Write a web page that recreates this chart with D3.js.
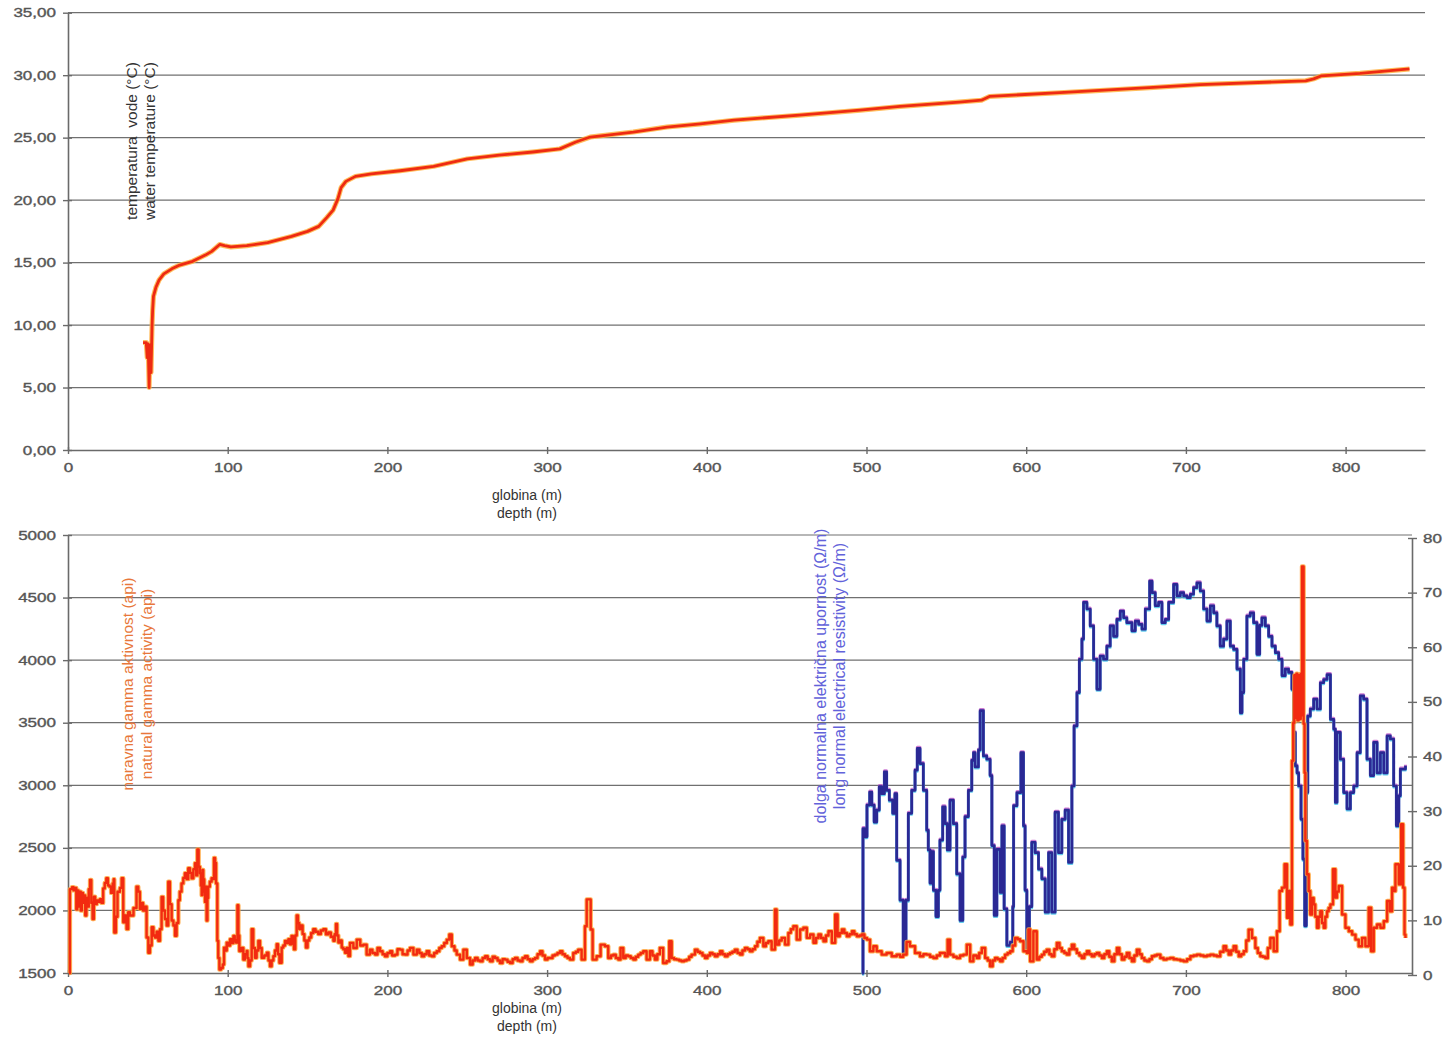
<!DOCTYPE html>
<html>
<head>
<meta charset="utf-8">
<script src="https://cdn.jsdelivr.net/npm/d3@7"></script>
<style>
  html, body { margin: 0; background: #fff; }
  svg { display: block; }
</style>
</head>
<body>
<svg id="chart" width="1447" height="1041"></svg>
<script>
// ---- axis ticks ----
const depthTicks = [0, 100, 200, 300, 400, 500, 600, 700, 800];
const tempTicks = [0, 5, 10, 15, 20, 25, 30, 35];
const gammaTicks = [1500, 2000, 2500, 3000, 3500, 4000, 4500, 5000];
const resistTicks = [0, 10, 20, 30, 40, 50, 60, 70, 80];

// ---- water temperature (°C) by depth (m) ----
const temperature = [
  [47,8.6],[49,8.6],[49.6,7.4],[50.2,8.5],[50.8,5.0],[51.4,8.4],[52,6.2],[52.6,9.8],[53,11.2],[53.5,12.3],
  [55,13.0],[57,13.6],[60,14.1],[65,14.5],[70,14.8],[78,15.1],[86,15.6],[90,15.9],[95,16.45],[98,16.35],
  [102,16.25],[112,16.35],[125,16.6],[140,17.1],[150,17.5],[157,17.9],[162,18.6],[166,19.2],[169,20.1],
  [171,21.0],[174,21.5],[180,21.9],[190,22.1],[208,22.35],[229,22.7],[250,23.3],[270,23.6],[291,23.85],
  [308,24.1],[318,24.65],[327,25.05],[354,25.45],[375,25.85],[396,26.1],[417,26.4],[458,26.8],[496,27.2],
  [521,27.5],[558,27.85],[572,28.0],[577,28.3],[621,28.6],[677,29.0],[709,29.25],[775,29.55],[780,29.7],
  [785,29.95],[809,30.15],[840,30.5]
];

// ---- natural gamma activity (api) by depth (m) ----
const gamma = [
  [0.6,1500],[1.2,2170],[2.5,2185],[3.5,2160],[4.4,2180],[5.2,2010],[5.8,2160],[6.5,2030],[7.2,2150],[8,2000],
  [8.7,2140],[9.4,2060],[10.1,2120],[10.8,1960],[11.5,2100],[12.2,2030],[13,2170],[13.8,2243],[14.6,2060],[15.4,1932],
  [16.2,2110],[17,2050],[18,2080],[19,2068],[20,2090],[21,2060],[22,2176],[23,2220],[24,2257],[25,2200],
  [26,2190],[27,2140],[28,2216],[28.6,2250],[29,1824],[30,1950],[31,2149],[32.5,2180],[33.6,2257],[34.6,1905],
  [35.6,1960],[36.7,1851],[37.7,1986],[38.8,1960],[39.8,1959],[41,2020],[42.9,2190],[44,2150],[45,2014],[46,2060],
  [47,2000],[48,2030],[49.2,1784],[50.3,1662],[51.3,1720],[52.4,1865],[53.5,1800],[54.5,1784],[55.5,1830],[56.6,1757],
  [57.6,1850],[58.6,2108],[59.6,2000],[60.7,1932],[61.8,1880],[62.8,2230],[63.8,2050],[64.9,1919],[66,1880],[67,1797],
  [68,1900],[69.1,2081],[70,2150],[71.1,2216],[72.2,2260],[73.2,2297],[74.3,2250],[75.3,2338],[76.4,2300],[77.4,2257],
  [78.5,2330],[79.5,2378],[80.3,2280],[81,2487],[81.8,2350],[82.6,2297],[83.2,2200],[83.7,2122],[84.2,2324],[84.7,2250],
  [85.3,2150],[85.8,2068],[86.3,2190],[86.8,1919],[87.3,2100],[87.8,2190],[88.8,2230],[89.9,2257],[90.6,2250],[91.4,2419],
  [92.1,2380],[92.7,2216],[93.5,1757],[94.1,1620],[94.8,1527],[95.8,1540],[96.9,1568],[97.7,1703],[98.5,1680],[99.4,1743],
  [100.4,1720],[101.5,1770],[102.5,1740],[103.6,1797],[104.4,1760],[105.2,1743],[106.1,2041],[106.7,1800],[107.3,1676],[108.5,1700],
  [109.8,1608],[110.8,1650],[111.9,1676],[112.4,1620],[113,1554],[114,1600],[115,1851],[116,1700],[117.1,1622],[118.1,1680],
  [119.2,1757],[120.2,1700],[121.3,1622],[122.9,1640],[124.5,1662],[125.5,1600],[126.5,1554],[127.5,1600],[128.6,1635],[129.6,1680],
  [130.7,1730],[131.5,1650],[132.4,1581],[133.8,1703],[134.8,1720],[135.9,1757],[137,1740],[138,1770],[139,1730],[140,1797],
  [140.8,1750],[141.5,1689],[142.3,1800],[143.2,1960],[144,1900],[144.8,1851],[145.8,1880],[146.9,1811],[148,1760],[149,1703],
  [150,1760],[151.1,1784],[152.3,1820],[153.6,1851],[155,1830],[156.7,1811],[158.3,1840],[159.9,1851],[161.5,1810],[163,1824],
  [164.6,1790],[166.2,1757],[167,1810],[167.8,1892],[168.5,1800],[169.3,1743],[170.3,1760],[171.4,1703],[172.4,1690],[173.5,1662],
  [174.5,1700],[175.6,1635],[176.6,1741],[178.7,1700],[180.8,1767],[183,1720],[185,1727],[187,1647],[189,1687],[190.6,1660],
  [192.3,1647],[193.8,1700],[195.4,1674],[197,1650],[198.5,1634],[200,1660],[201.7,1674],[203,1640],[204.8,1647],[206.3,1690],
  [207.9,1687],[209.5,1650],[211,1647],[212.6,1680],[214.2,1701],[216.3,1647],[218.4,1687],[220,1660],[221.5,1634],[223,1650],
  [224.6,1674],[226.2,1640],[227.8,1634],[229.3,1660],[230.9,1674],[232.5,1700],[234,1714],[235.6,1740],[237.2,1767],[238.8,1808],
  [240.3,1714],[242,1680],[243.4,1647],[245.5,1607],[247.6,1687],[249.7,1620],[251.8,1567],[253.4,1600],[254.9,1620],[256.5,1600],
  [258,1594],[259.6,1620],[261.2,1634],[262.8,1610],[264.3,1594],[265.9,1630],[267.4,1620],[269,1600],[270.5,1580],[272.1,1610],
  [273.7,1607],[275.2,1590],[276.8,1580],[278.4,1610],[279.9,1620],[281.5,1600],[283.1,1594],[284.6,1620],[286.2,1634],[287.8,1610],
  [289.3,1594],[290.9,1610],[292.4,1620],[294,1650],[295.6,1674],[297.1,1640],[298.7,1607],[300.3,1620],[301.8,1620],[303.4,1640],
  [304.9,1647],[306.5,1660],[308.1,1674],[309.6,1650],[311.2,1634],[312.8,1620],[314.3,1607],[316.4,1660],[318,1670],[319.5,1687],
  [321.6,1607],[323.7,1874],[324.8,2088],[326.4,2088],[327.3,1848],[328.5,1607],[331,1634],[333.5,1727],[336.2,1714],[338.3,1620],
  [340,1640],[341.5,1647],[343,1620],[344.6,1607],[346,1701],[347.7,1620],[349.2,1640],[350.8,1634],[352.4,1620],[354,1607],
  [355.5,1630],[357.1,1647],[358.6,1660],[360.2,1674],[362.3,1607],[364.4,1674],[366,1640],[367.5,1607],[369,1650],[370.6,1701],
  [372.7,1580],[374.8,1594],[376.5,1754],[378,1620],[379.5,1610],[381.1,1607],[382.7,1600],[384.2,1594],[385.8,1600],[387.4,1607],
  [389,1630],[390.5,1647],[392.6,1687],[394.2,1670],[395.7,1660],[397.3,1640],[398.9,1620],[400.4,1640],[402,1660],[403.6,1650],
  [405.1,1634],[406.7,1650],[408.3,1674],[409.8,1650],[411.4,1634],[413,1650],[414.5,1660],[416,1670],[417.6,1687],[419.2,1660],
  [420.8,1647],[422.3,1680],[423.9,1701],[425.5,1690],[427,1674],[428.6,1690],[430.2,1714],[431.7,1750],[433.3,1781],[435.4,1714],
  [437,1740],[438.5,1754],[440.6,1687],[442.7,2008],[443.7,1727],[445.3,1760],[446.9,1781],[449,1727],[451.1,1821],[452.6,1850],
  [454.2,1874],[456.3,1767],[458.4,1848],[460.5,1861],[462.6,1781],[464.7,1808],[466.8,1741],[468.4,1780],[469.9,1808],[471.5,1780],
  [473.1,1754],[474.6,1800],[476.2,1834],[478.3,1741],[480.4,1968],[481.9,1794],[483.2,1820],[484.6,1848],[486.1,1820],[487.7,1794],
  [489.3,1810],[490.9,1834],[492.4,1810],[494,1794],[495.6,1800],[497.1,1808],[498.7,1780],[500.3,1767],[502.2,1674],[504.3,1714],
  [506.4,1674],[509.5,1647],[512.6,1660],[515.8,1634],[518.9,1647],[521,1630],[523,1647],[525.1,1749],[527.2,1714],[530.4,1660],
  [533.5,1634],[535.6,1650],[537.7,1647],[539.8,1630],[541.9,1620],[544,1640],[546,1660],[549.2,1634],[550.8,1767],[552.3,1647],
  [554.4,1630],[556.5,1620],[558.6,1640],[560.7,1647],[562.8,1727],[564.9,1593],[566.9,1640],[569.1,1620],[570.6,1660],[572.2,1700],
  [574.3,1620],[575.9,1600],[577.4,1553],[579,1600],[580.5,1620],[582.1,1610],[583.7,1593],[585.2,1620],[586.8,1647],[588.4,1660],
  [590,1674],[591.5,1720],[593.1,1780],[594.7,1770],[596.2,1754],[598.3,1674],[600.4,1660],[601.4,1848],[602.5,1593],[604.5,1834],
  [606.6,1607],[608.2,1630],[609.8,1647],[611.3,1670],[612.9,1687],[614.5,1650],[616,1634],[617.6,1690],[619.2,1741],[620.8,1700],
  [622.3,1674],[623.9,1660],[625.4,1647],[627,1690],[628.6,1727],[630.1,1690],[631.7,1660],[633.3,1640],[634.8,1620],[636.4,1650],
  [638,1674],[639.5,1650],[641.1,1634],[642.7,1650],[644.2,1660],[645.8,1640],[647.4,1620],[648.9,1650],[650.5,1674],[652,1630],
  [653.6,1593],[655.2,1650],[656.8,1700],[658.3,1650],[659.9,1607],[661.5,1630],[663,1660],[664.6,1620],[666.2,1593],[667.7,1640],
  [669.3,1687],[670.9,1650],[672.4,1620],[674,1600],[675.6,1593],[677.1,1610],[678.7,1634],[680.3,1640],[681.8,1647],[684,1620],
  [686,1607],[688,1615],[690.2,1620],[692.3,1610],[694.4,1607],[696.5,1600],[698.6,1593],[700.7,1610],[702.8,1634],[704.8,1640],
  [706.9,1647],[709,1640],[711.1,1634],[713.2,1640],[715.3,1647],[717.4,1640],[719.4,1634],[721.5,1670],[723.6,1714],[725.2,1680],
  [726.8,1647],[728.3,1680],[729.9,1714],[731.5,1670],[733.1,1634],[734.6,1650],[736.2,1674],[737.8,1760],[739.3,1847],[741.4,1780],
  [743.5,1700],[745,1660],[746.6,1634],[748.2,1630],[749.7,1620],[751.3,1700],[752.9,1780],[755,1674],[757,1834],[758.7,2155],
  [760.2,2182],[761.8,2369],[763.3,1941],[764.3,2155],[765.4,1888],[766.4,3197],[767.2,3500],[767.9,3880],[768.5,3540],[769.2,3892],
  [769.8,3520],[770.6,3880],[771.2,3530],[771.9,3892],[772.3,3560],[772.7,4748],[773.4,4748],[773.7,3491],[774.3,3100],[774.8,2556],
  [775.8,2289],[776.9,2155],[777.9,1968],[779,2100],[780,2048],[781,1950],[782.1,1861],[783.1,1950],[784.2,1994],[785.2,1900],
  [786.3,1861],[787.3,1950],[788.4,1994],[789.4,2020],[790.5,2048],[792.1,2329],[793.6,2102],[794.6,2150],[795.7,2195],[797.8,1968],
  [799.9,1861],[802,1834],[804.1,1807],[806.2,1767],[808.2,1714],[810.3,1780],[812.4,1714],[814.5,2021],[816,1674],[817.6,1861],
  [819.7,1888],[821.8,1861],[823.9,1914],[826,2075],[827.7,1994],[829.1,2182],[830.1,2155],[831.2,2369],[833.3,2209],[834.8,2689],
  [836,2182],[836.9,1807],[837.5,1780]
];

// ---- long normal electrical resistivity (Ω/m) by depth (m) ----
const resistivity = [
  [497.3,0.3],[497.8,26.8],[499,25.3],[500.3,31.1],[502,33.5],[503.3,31.1],[504.8,28],[506.4,30.2],[508,34.5],[509.5,33.2],
  [511.2,37.2],[512.6,33.8],[514.3,32],[516.4,29.6],[517.8,33.2],[518.9,21],[521,13.7],[523,4],[524.7,13.7],[526.2,29.6],
  [528.3,33.8],[530.4,37.5],[531.8,41.5],[533.5,38.7],[535.6,33.8],[537.7,26.5],[538.7,22.9],[539.8,16.8],[540.8,22.6],[541.9,15.5],
  [543.5,10.7],[545,15.5],[546,24.7],[547.7,30.8],[549.2,27.7],[550.6,22.9],[552.3,32],[554.4,27.7],[556.5,18.5],[558.6,10],
  [560.3,21.6],[561.7,29],[563.8,33.8],[565.9,39.3],[567,40.7],[568,38.1],[570.1,41.2],[571.2,48.4],[573.2,40.1],[575.3,39.5],
  [577.4,36.5],[578.5,23.7],[580,10.9],[581.6,23],[583.7,15.1],[584.8,27.3],[586.2,12.1],[587.9,5.4],[590,6],[591.6,12.5],
  [592.1,31],[594.2,33.4],[596.7,40.7],[598.3,27.3],[599.3,15.5],[600.4,4.5],[602,12.5],[603.5,24.3],[605.6,22.4],[607.7,19.4],
  [609.8,17.6],[611.9,11.5],[614,22.4],[616,11.5],[618.1,29.8],[620.2,22.4],[622.3,28.5],[624.4,30.2],[626.5,20.6],[628.6,34.6],
  [630,45.6],[631.8,51.7],[633.3,57.8],[634.9,61.5],[635.9,68.2],[638,67],[640.1,63.9],[642.2,57.8],[644.3,52.3],[646.3,58.4],
  [648.4,57.8],[650.5,60.2],[652.6,63.9],[654.7,62],[656.8,65.1],[658.9,66.6],[661,65.4],[663,64.5],[666.2,63],[668.3,64.8],
  [670.4,64.2],[672.5,63.3],[674.6,67],[677.3,72.1],[678.8,70],[680.8,67.6],[682.9,68.2],[685,64.5],[687.1,65.1],[689.2,68.2],
  [692.3,71.5],[694.4,69.4],[696.5,70],[698.6,69.4],[700.7,69.1],[702.8,69.7],[704.8,70.9],[706.9,71.8],[709,70.3],[711.1,67],
  [713.2,64.8],[715.3,67.6],[717.4,66.3],[719.4,63.9],[721.5,60.2],[723.6,61.5],[725.7,64.8],[727.8,60.2],[729.9,59.6],[732,56],
  [734.1,48],[735.1,51.7],[736.2,57.8],[738.2,65.7],[740.3,66.3],[742.4,64.5],[744.5,58.7],[746.2,64],[747.6,65.4],[749.7,63.9],
  [751.8,62],[753.9,60.2],[756,59],[758.1,57.8],[760.2,54.8],[762.2,56],[764.3,55.4],[766.4,52.3],[767.5,44.4],[768.5,38.3],
  [769.6,37],[770.6,34.6],[772.1,28.5],[773.3,21.2],[774.4,9],[775.4,33.4],[776.3,47.4],[777.9,48.7],[780,50.5],[782.1,48.7],
  [784.2,53.5],[786.3,54.1],[788.4,55],[790.5,46.8],[792.6,45],[793.6,31.6],[794.6,44.4],[796.7,39.5],[798.8,33.4],[800.9,30.4],
  [803,33.4],[805.1,34.6],[807.2,40.7],[809.2,51.1],[811.3,50.5],[813.4,39.5],[815.5,36.5],[817.6,42.6],[819.7,37],[821.8,40.7],
  [823.9,37],[826,43.8],[828,43.2],[830.1,34.6],[831.8,27.3],[833.3,32.8],[834.3,37.7],[837.5,38.3]
];

// ---- drawing ----
const FONT = "'Liberation Sans', Arial, sans-serif";
const svg = d3.select("#chart");
const pxPerMetre = 1.597;

const commaFmt = d => d3.format(".2f")(d).replace(".", ",");

function styleAxis(g, labelTransform, anchor) {
  g.select(".domain").attr("stroke", "#6a6a6a").attr("stroke-width", 1.6);
  g.selectAll(".tick line").attr("stroke", "#6a6a6a").attr("stroke-width", 1.4);
  g.selectAll(".tick text")
    .attr("x", 0).attr("y", 0).attr("dy", null)
    .attr("fill", "#555")
    .attr("stroke", "#555").attr("stroke-width", 0.35)
    .attr("text-anchor", anchor)
    .style("font-family", FONT)
    .style("font-size", "12px")
    .attr("transform", labelTransform);
}

function gridLines(g, values, y, x0, x1) {
  g.selectAll("line.grid").data(values).join("line")
    .attr("class", "grid")
    .attr("x1", x0).attr("x2", x1)
    .attr("y1", d => y(d)).attr("y2", d => y(d))
    .attr("stroke", "#707070").attr("stroke-width", 1.2);
}

function verticalTitle(x, yc, lines, size, color, gap) {
  lines.forEach((t, i) => {
    svg.append("text")
      .attr("transform", `translate(${x + i * gap},${yc}) rotate(-90)`)
      .attr("text-anchor", "middle")
      .style("font-family", FONT)
      .style("font-size", size + "px")
      .style("white-space", "pre")
      .attr("fill", color)
      .text(t);
  });
}

function depthTitle(cx, y) {
  ["globina (m)", "depth (m)"].forEach((t, i) => {
    svg.append("text")
      .attr("x", cx).attr("y", y + i * 18)
      .attr("text-anchor", "middle")
      .style("font-family", FONT)
      .style("font-size", "14px")
      .attr("fill", "#333")
      .text(t);
  });
}

// layered stroke: soft halo under a crisp core
function drawSeries(g, data, line, halo, core, w) {
  halo.forEach(h => {
    g.append("path").datum(data)
      .attr("d", line).attr("fill", "none")
      .attr("stroke", h.color).attr("stroke-width", h.width)
      .attr("stroke-opacity", h.opacity)
      .attr("transform", `translate(0,${h.dy || 0})`)
      .attr("stroke-linejoin", "round");
  });
  g.append("path").datum(data)
    .attr("d", line).attr("fill", "none")
    .attr("stroke", core).attr("stroke-width", w)
    .attr("stroke-linejoin", "round");
}

// ===== upper panel: water temperature =====
const panelTop = { left: 68, right: 1425, top: 12.7, bottom: 450 };
const xTop = d3.scaleLinear().domain([0, (panelTop.right - panelTop.left) / pxPerMetre]).range([panelTop.left, panelTop.right]);
const yTemp = d3.scaleLinear().domain([0, 35]).range([panelTop.bottom, panelTop.top]);

const gTop = svg.append("g");
gridLines(gTop, tempTicks.slice(1), yTemp, panelTop.left, panelTop.right);

gTop.append("g").attr("transform", `translate(${panelTop.left},0)`)
  .call(d3.axisLeft(yTemp).tickValues(tempTicks).tickFormat(commaFmt).tickSize(5).tickSizeOuter(0))
  .call(g => styleAxis(g, "translate(-12,4) scale(1.42,1)", "end"))
  .call(g => g.selectAll(".tick line").attr("x1", 4));

gTop.append("g").attr("transform", `translate(0,${panelTop.bottom})`)
  .call(d3.axisBottom(xTop).tickValues(depthTicks).tickFormat(d3.format("d")).tickSize(4).tickSizeOuter(0))
  .call(g => styleAxis(g, "translate(0,22) scale(1.42,1)", "middle"))
  .call(g => g.selectAll(".tick line").attr("y1", -3));

const tempLine = d3.line().x(d => xTop(d[0])).y(d => yTemp(d[1]));
drawSeries(gTop, temperature, tempLine,
  [{ color: "#ffb040", width: 5, opacity: 0.85 }], "#ee2a12", 2.8);

verticalTitle(137, 141, ["temperatura  vode (°C)", "water temperature (°C)"], 15.5, "#333", 18);
depthTitle(527, 500);

// ===== lower panel: gamma and resistivity logs =====
const panelBot = { left: 68, right: 1412, top: 535, bottom: 973 };
const xBot = d3.scaleLinear().domain([0, (panelBot.right - panelBot.left) / pxPerMetre]).range([panelBot.left, panelBot.right]);
const yGamma = d3.scaleLinear().domain([1500, 5000]).range([panelBot.bottom, panelBot.top]);
const yRes = d3.scaleLinear().domain([0, 80]).range([975, 538]);

const gBot = svg.append("g");
gridLines(gBot, gammaTicks.slice(1), yGamma, panelBot.left, panelBot.right);

gBot.append("g").attr("transform", `translate(${panelBot.left},0)`)
  .call(d3.axisLeft(yGamma).tickValues(gammaTicks).tickFormat(d3.format("d")).tickSize(5).tickSizeOuter(0))
  .call(g => styleAxis(g, "translate(-12,4) scale(1.42,1)", "end"))
  .call(g => g.selectAll(".tick line").attr("x1", 4));

gBot.append("g").attr("transform", `translate(${panelBot.right},0)`)
  .call(d3.axisRight(yRes).tickValues(resistTicks).tickFormat(d3.format("d")).tickSize(5).tickSizeOuter(0))
  .call(g => styleAxis(g, "translate(11,4) scale(1.42,1)", "start"))
  .call(g => g.selectAll(".tick line").attr("x1", -4));

gBot.append("g").attr("transform", `translate(0,${panelBot.bottom})`)
  .call(d3.axisBottom(xBot).tickValues(depthTicks).tickFormat(d3.format("d")).tickSize(4).tickSizeOuter(0))
  .call(g => styleAxis(g, "translate(0,22) scale(1.42,1)", "middle"))
  .call(g => g.selectAll(".tick line").attr("y1", -3));

const resLine = d3.line().curve(d3.curveStepAfter).x(d => xBot(d[0])).y(d => yRes(d[1]));
drawSeries(gBot, resistivity, resLine,
  [{ color: "#c05ac8", width: 3, opacity: 0.8, dy: -1 },
   { color: "#3cc0ea", width: 3, opacity: 0.8, dy: 1 }], "#2a2894", 2.7);

const gammaLine = d3.line().curve(d3.curveStepAfter).x(d => xBot(d[0])).y(d => yGamma(d[1]));
drawSeries(gBot, gamma, gammaLine,
  [{ color: "#ffa43c", width: 4.4, opacity: 0.85 }], "#f22a10", 2.4);

verticalTitle(133, 684, ["naravna gamma aktivnost (api)", "natural gamma activity (api)"], 15.5, "#e8773a", 18.5);
verticalTitle(826, 676, ["dolga normalna električna upornost (Ω/m)", "long normal electrical resistivity (Ω/m)"], 16, "#6262da", 19);
depthTitle(527, 1013);
</script>
</body>
</html>
